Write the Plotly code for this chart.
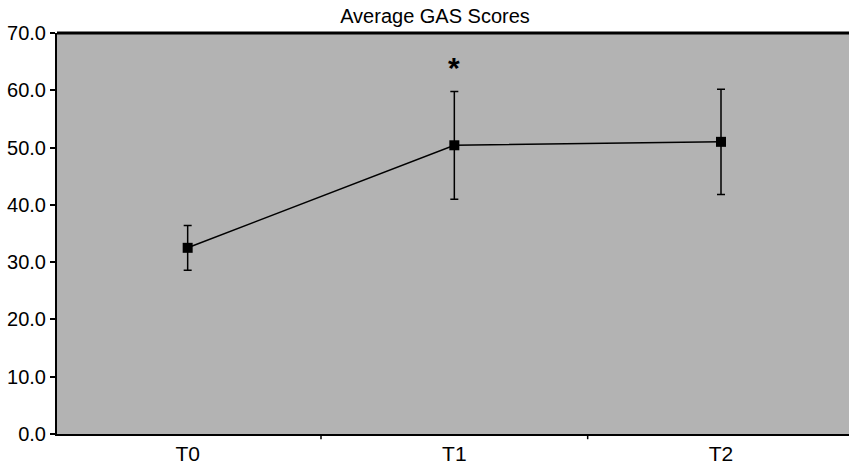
import plotly.graph_objects as go

categories = ["T0", "T1", "T2"]
means = [32.5, 50.4, 51.0]
sd = [3.9, 9.4, 9.2]
y_ticks = [0, 10, 20, 30, 40, 50, 60, 70]
star_label = "<b>*</b>"
star_y = 64.0

x_pos = list(range(len(categories)))

fig = go.Figure()
fig.add_trace(go.Scatter(
    x=x_pos, y=means, mode="lines+markers",
    line=dict(color="black", width=1.5),
    marker=dict(symbol="square", size=10, color="black"),
    error_y=dict(type="data", array=sd, visible=True, color="black", thickness=1.5, width=4),
    showlegend=False,
))

fig.add_annotation(x=1, y=star_y, text=star_label, showarrow=False,
                   font=dict(size=30, color="black", family="Liberation Sans"))

# thick top border
fig.add_shape(type="line", xref="paper", yref="paper", x0=0, x1=1, y0=1, y1=1,
              line=dict(color="black", width=3))

fig.update_layout(
    width=849, height=468,
    margin=dict(l=57, r=0, t=33, b=34),
    paper_bgcolor="white",
    plot_bgcolor="#b3b3b3",
    font=dict(family="Liberation Sans, Arial, sans-serif", color="black"),
    title=dict(text="Average GAS Scores", x=435/849, xanchor="center", y=1 - 16/468, yanchor="middle",
               font=dict(size=20, color="black")),
)
fig.update_xaxes(
    range=[-0.49, 2.48],
    tickmode="array", tickvals=x_pos, ticktext=categories,
    ticks="", showgrid=False, zeroline=False,
    showline=True, linecolor="black", linewidth=2,
    tickfont=dict(size=21),
)
# boundary ticks between categories
for b in [0.5, 1.5]:
    fig.add_shape(type="line", xref="x", yref="paper", x0=b, x1=b, y0=0, y1=-0.013,
                  line=dict(color="black", width=1.5))
fig.update_yaxes(
    range=[0, 70], tickvals=y_ticks, tickformat=".1f",
    ticks="outside", ticklen=5, tickwidth=2, tickcolor="black",
    showgrid=False, zeroline=False,
    showline=True, linecolor="black", linewidth=2,
    tickfont=dict(size=20),
)

fig.write_html("out.html", config={"displayModeBar": False},
               post_script="document.body.style.margin='0';document.body.style.overflow='hidden';")
